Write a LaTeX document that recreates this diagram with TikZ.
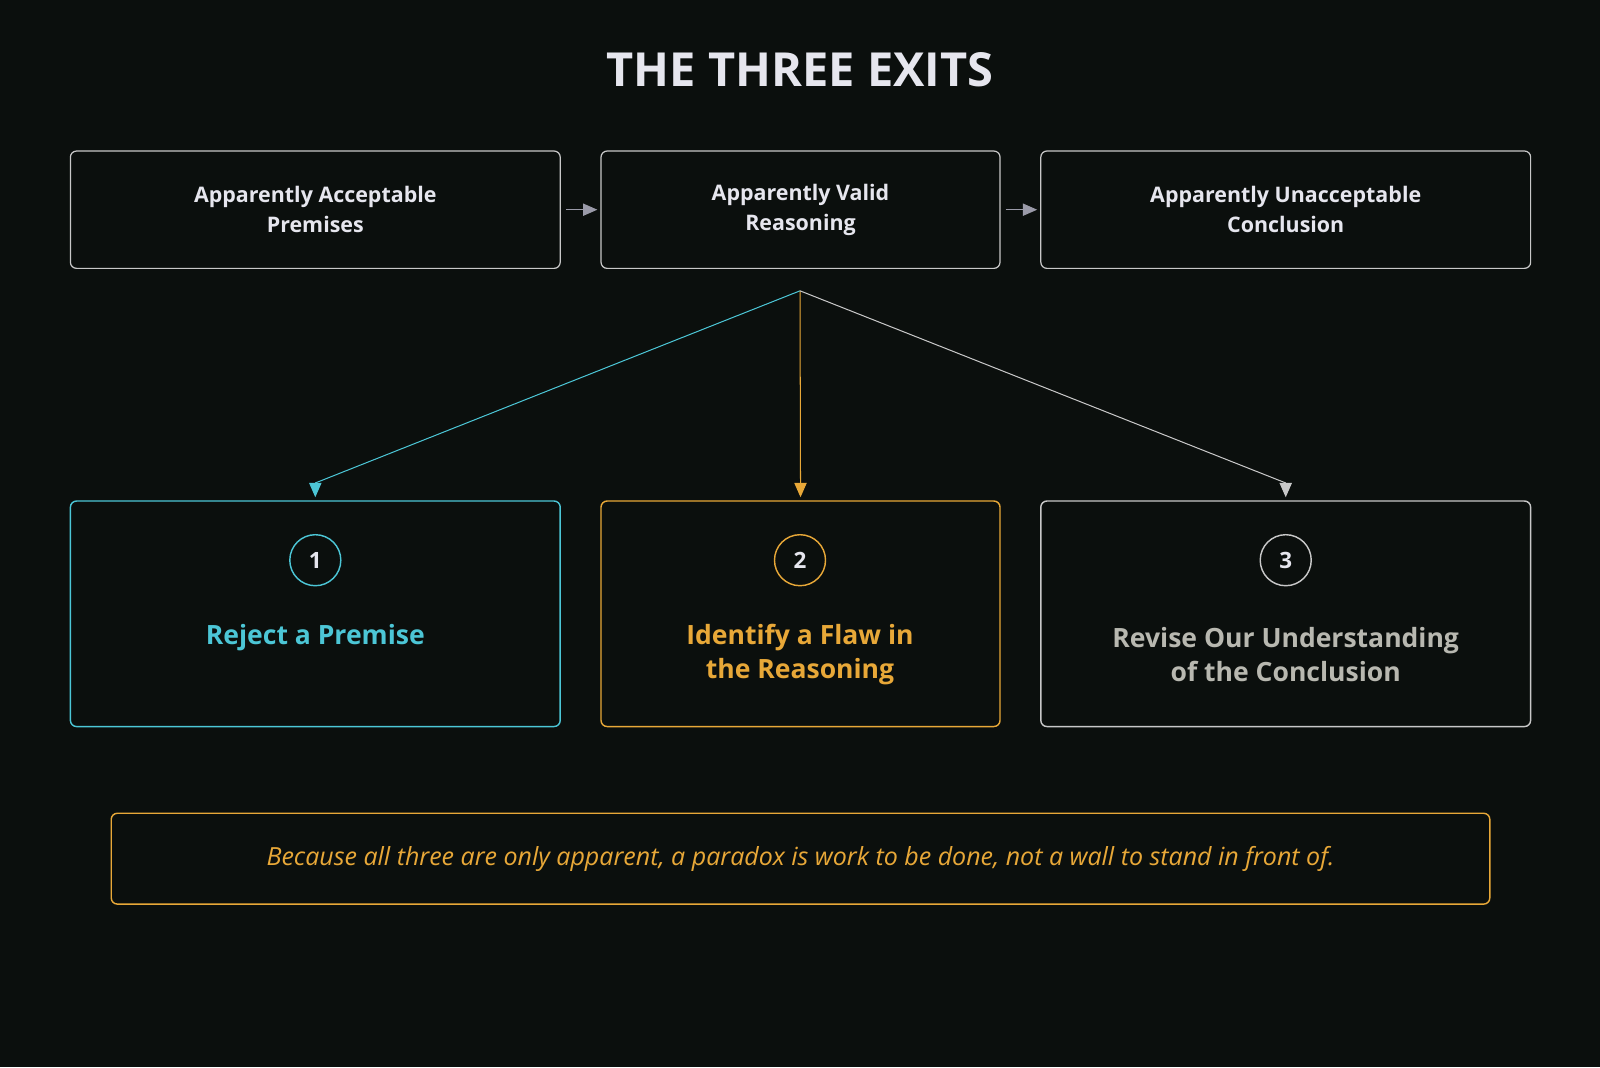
\documentclass[tikz,border=0pt]{standalone}
\usepackage{fontspec}
\setmainfont{Open Sans}
\usetikzlibrary{arrows.meta}
\definecolor{bg}{HTML}{0B0F0D}
\definecolor{edge}{HTML}{C8C8C8}
\definecolor{cy}{HTML}{4CC6D6}
\definecolor{orng}{HTML}{E8A838}
\definecolor{gtxt}{HTML}{B8B8B0}
\definecolor{ttl}{HTML}{E6E6EE}
\definecolor{arr}{HTML}{9A9AA8}
\begin{document}
\begin{tikzpicture}[x=1pt,y=-1pt,
 topbox/.style={draw=edge,line width=1.2pt,rounded corners=6pt,minimum width=480pt,minimum height=115pt,align=center,text=ttl,font=\fontsize{21}{29}\selectfont\bfseries},
 botbox/.style={line width=1.4pt,rounded corners=6pt,minimum height=221pt,draw},
 lab/.style={align=center,font=\fontsize{26}{33}\selectfont\bfseries},
 num/.style={circle,line width=1.4pt,minimum size=50pt,inner sep=0pt,text=ttl,font=\fontsize{22}{22}\selectfont\bfseries,draw},
 tip/.style={-{Triangle[length=14pt,width=12pt]},line width=1pt,shorten >=3pt}]
\fill[bg] (0,0) rectangle (1568,1046);
\useasboundingbox (0,0) rectangle (1568,1046);
\node[text=ttl,font=\fontsize{46}{46}\selectfont\bfseries] (title) at (784,68) {THE THREE EXITS};
\node[topbox] (p) at (309,205.5) {Apparently Acceptable\\Premises};
\node[topbox,minimum width=391pt] (r) at (784.5,205.5) {Apparently Valid\\Reasoning};
\node[topbox] (c) at (1260,205.5) {Apparently Unacceptable\\Conclusion};
\draw[tip,arr,shorten <=5pt] (p.east) -- (r.west);
\draw[tip,arr,shorten <=5pt] (r.east) -- (c.west);
\node[botbox,draw=cy,minimum width=480pt] (b1) at (309,601.5) {};
\node[botbox,draw=orng,minimum width=391pt] (b2) at (784.5,601.5) {};
\node[botbox,draw=edge,minimum width=480pt] (b3) at (1260,601.5) {};
\coordinate (br) at (784,285);
\coordinate (a1) at ([yshift=17pt]b1.north);
\coordinate (a2) at ([yshift=17pt]b2.north);
\coordinate (a3) at ([yshift=17pt]b3.north);
\draw[cy,line width=1pt] (br) -- (a1);
\draw[tip,cy] (a1) -- (b1.north);
\draw[orng,line width=1pt] (br) -- (a2);
\draw[tip,orng] (a2) -- (b2.north);
\draw[edge,line width=1pt] (br) -- (a3);
\draw[tip,edge] (a3) -- (b3.north);
\node[num,draw=cy] (n1) at (309,549) {1};
\node[num,draw=orng] (n2) at (784,549) {2};
\node[num,draw=edge] (n3) at (1260,549) {3};
\node[lab,text=cy] (l1) at (309,625) {Reject a Premise};
\node[lab,text=orng] (l2) at (784,641.5) {Identify a Flaw in\\the Reasoning};
\node[lab,text=gtxt] (l3) at (1260,641.5) {Revise Our Understanding\\of the Conclusion};
\node[draw=orng,line width=1.4pt,rounded corners=6pt,minimum width=1351pt,minimum height=89pt,text=orng,font=\fontsize{24.5}{24.5}\selectfont\itshape] (note) at (784.5,841.5) {Because all three are only apparent, a paradox is work to be done, not a wall to stand in front of.};
\end{tikzpicture}
\end{document}
